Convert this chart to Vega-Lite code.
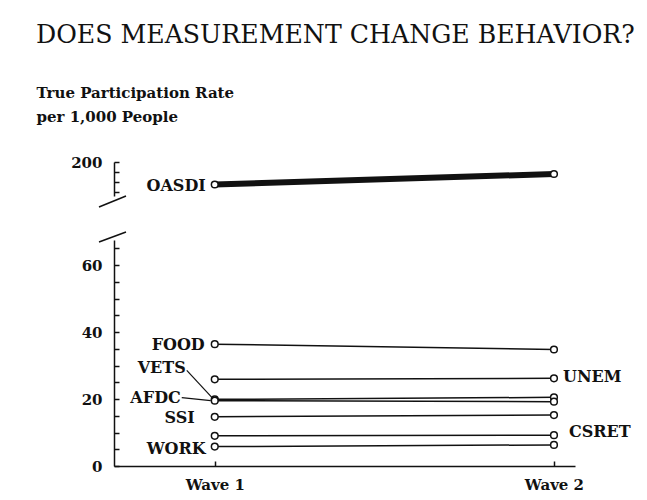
{
  "$schema": "https://vega.github.io/schema/vega-lite/v6.json",
  "padding": {"left": 36, "top": 22, "right": 0, "bottom": 0},
  "bounds": "flush",
  "spacing": 44,
  "background": "white",
  "title": {
    "text": "DOES MEASUREMENT CHANGE BEHAVIOR?",
    "font": "DejaVu Serif",
    "fontSize": 25.2,
    "fontWeight": "normal",
    "color": "#111",
    "anchor": "start",
    "frame": "bounds",
    "offset": 37
  },
  "datasets": {
    "rates": [
      {"program": "OASDI", "wave": 1, "rate": 177.5},
      {"program": "OASDI", "wave": 2, "rate": 188},
      {"program": "FOOD", "wave": 1, "rate": 36.4},
      {"program": "FOOD", "wave": 2, "rate": 34.8},
      {"program": "UNEM", "wave": 1, "rate": 25.9},
      {"program": "UNEM", "wave": 2, "rate": 26.2},
      {"program": "VETS", "wave": 1, "rate": 19.9},
      {"program": "VETS", "wave": 2, "rate": 20.5},
      {"program": "AFDC", "wave": 1, "rate": 19.5},
      {"program": "AFDC", "wave": 2, "rate": 19.2},
      {"program": "SSI", "wave": 1, "rate": 14.7},
      {"program": "SSI", "wave": 2, "rate": 15.2},
      {"program": "CSRET", "wave": 1, "rate": 9.0},
      {"program": "CSRET", "wave": 2, "rate": 9.2},
      {"program": "WORK", "wave": 1, "rate": 5.8},
      {"program": "WORK", "wave": 2, "rate": 6.3}
    ]
  },
  "config": {
    "view": {"stroke": null},
    "font": "DejaVu Serif",
    "text": {"font": "DejaVu Serif", "fontWeight": "bold", "fontSize": 16, "color": "#111"},
    "axis": {
      "grid": false,
      "domainColor": "#111",
      "domainWidth": 1.5,
      "tickColor": "#111",
      "tickWidth": 1.5,
      "tickSize": -5,
      "labelFont": "DejaVu Serif",
      "labelFontWeight": "bold",
      "labelFontSize": 15,
      "labelColor": "#111",
      "titleFont": "DejaVu Serif",
      "titleFontWeight": "bold",
      "titleColor": "#111"
    }
  },
  "vconcat": [
    {
      "width": 461,
      "height": 34,
      "data": {"name": "rates"},
      "transform": [{"filter": "datum.program == 'OASDI'"}],
      "encoding": {
        "x": {"field": "wave", "type": "quantitative", "scale": {"domain": [0.703, 2.062], "nice": false, "zero": false}, "axis": null},
        "y": {"field": "rate", "type": "quantitative", "scale": {"domain": [166, 200], "nice": false, "zero": false},
          "axis": {
            "values": [170, 180, 190, 200],
            "labelExpr": "datum.value == 200 ? '200' : ''",
            "labelPadding": 17,
            "title": ["True Participation Rate", "per 1,000 People"],
            "titleFontSize": 15,
            "titleAngle": 0,
            "titleAlign": "left",
            "titleBaseline": "top",
            "titleLineHeight": 24,
            "titleX": -78,
            "titleY": -77
          }
        }
      },
      "layer": [
        {"mark": {"type": "line", "color": "#111", "strokeWidth": 6}},
        {"mark": {"type": "point", "shape": "circle", "filled": true, "fill": "white", "stroke": "#111", "strokeWidth": 1.5, "size": 45, "opacity": 1}},
        {"transform": [{"filter": "datum.wave == 1"}], "mark": {"type": "text", "align": "right", "baseline": "middle", "dx": -9, "dy": 1}, "encoding": {"text": {"field": "program"}}},
        {"transform": [{"filter": "datum.wave == 1"}], "mark": {"type": "rule", "color": "#111", "strokeWidth": 1.5, "clip": false, "xOffset": -15, "yOffset": 11, "x2Offset": 12, "y2Offset": 0},
          "encoding": {"x": {"datum": 0.703}, "y": {"datum": 166}, "x2": {"datum": 0.703}, "y2": {"datum": 166}}}
      ]
    },
    {
      "width": 461,
      "height": 226,
      "data": {"name": "rates"},
      "transform": [{"filter": "datum.program != 'OASDI'"}],
      "encoding": {
        "x": {"field": "wave", "type": "quantitative", "scale": {"domain": [0.703, 2.062], "nice": false, "zero": false},
          "axis": {"values": [1, 2], "labelExpr": "'Wave ' + datum.value", "title": null, "labelPadding": 16}},
        "y": {"field": "rate", "type": "quantitative", "scale": {"domain": [0, 67.5], "nice": false, "zero": false},
          "axis": {
            "values": [0, 5, 10, 15, 20, 25, 30, 35, 40, 45, 50, 55, 60, 65],
            "labelExpr": "datum.value % 20 == 0 ? datum.label : ''",
            "labelPadding": 17,
            "title": null
          }
        }
      },
      "layer": [
        {"mark": {"type": "line", "color": "#111", "strokeWidth": 1.5}, "encoding": {"detail": {"field": "program"}}},
        {"mark": {"type": "point", "shape": "circle", "filled": true, "fill": "white", "stroke": "#111", "strokeWidth": 1.5, "size": 45, "opacity": 1}},
        {"transform": [{"filter": "datum.wave == 1 && datum.program == 'FOOD'"}], "mark": {"type": "text", "align": "right", "baseline": "middle", "dx": -10, "dy": 1}, "encoding": {"text": {"field": "program"}}},
        {"transform": [{"filter": "datum.wave == 1 && datum.program == 'SSI'"}], "mark": {"type": "text", "align": "right", "baseline": "middle", "dx": -20, "dy": 1}, "encoding": {"text": {"field": "program"}}},
        {"transform": [{"filter": "datum.wave == 1 && datum.program == 'WORK'"}], "mark": {"type": "text", "align": "right", "baseline": "middle", "dx": -9, "dy": 2}, "encoding": {"text": {"field": "program"}}},
        {"transform": [{"filter": "datum.wave == 1 && datum.program == 'VETS'"}], "mark": {"type": "text", "align": "right", "baseline": "middle", "dx": -29, "dy": -31}, "encoding": {"text": {"field": "program"}}},
        {"transform": [{"filter": "datum.wave == 1 && datum.program == 'AFDC'"}], "mark": {"type": "text", "align": "right", "baseline": "middle", "dx": -34, "dy": -3}, "encoding": {"text": {"field": "program"}}},
        {"transform": [{"filter": "datum.wave == 1 && datum.program == 'VETS'"}], "mark": {"type": "rule", "color": "#111", "strokeWidth": 1.2, "xOffset": -2, "yOffset": -1, "x2Offset": -28, "y2Offset": -29},
          "encoding": {"x2": {"field": "wave"}, "y2": {"field": "rate"}}},
        {"transform": [{"filter": "datum.wave == 1 && datum.program == 'AFDC'"}], "mark": {"type": "rule", "color": "#111", "strokeWidth": 1.2, "xOffset": -4, "yOffset": 0, "x2Offset": -33, "y2Offset": -3},
          "encoding": {"x2": {"field": "wave"}, "y2": {"field": "rate"}}},
        {"transform": [{"filter": "datum.wave == 2 && datum.program == 'UNEM'"}], "mark": {"type": "text", "align": "left", "baseline": "middle", "dx": 9, "dy": -1}, "encoding": {"text": {"field": "program"}}},
        {"transform": [{"filter": "datum.wave == 2 && datum.program == 'CSRET'"}], "mark": {"type": "text", "align": "left", "baseline": "middle", "dx": 15, "dy": -3}, "encoding": {"text": {"field": "program"}}},
        {"transform": [{"filter": "datum.wave == 1 && datum.program == 'FOOD'"}], "mark": {"type": "rule", "color": "#111", "strokeWidth": 1.5, "clip": false, "xOffset": -15, "yOffset": 2, "x2Offset": 12, "y2Offset": -8},
          "encoding": {"x": {"datum": 0.703}, "y": {"datum": 67.5}, "x2": {"datum": 0.703}, "y2": {"datum": 67.5}}}
      ]
    }
  ]
}
